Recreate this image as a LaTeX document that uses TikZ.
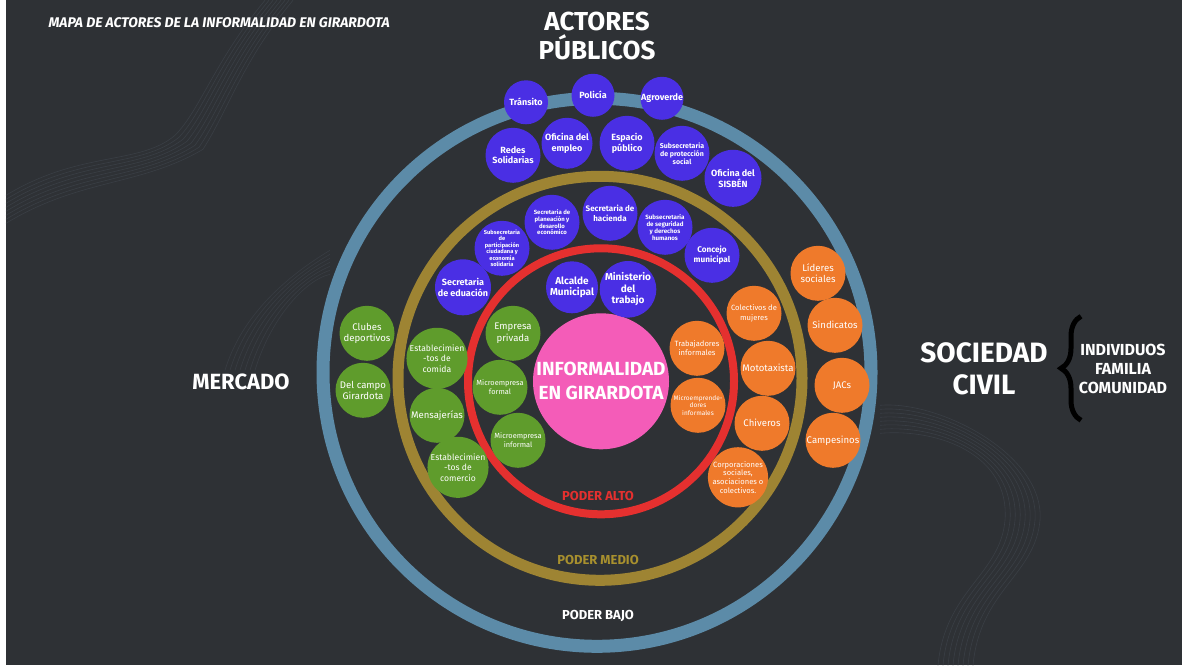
\documentclass[tikz,border=0pt]{standalone}
\usepackage{fontspec}
\setmainfont{Fira Sans}
\usetikzlibrary{decorations.pathreplacing}

\definecolor{bgdark}{HTML}{2E3135}
\definecolor{waveline}{HTML}{3D4249}
\definecolor{pubblue}{HTML}{4A2FE4}
\definecolor{mktgreen}{HTML}{5F9C2C}
\definecolor{civorange}{HTML}{EF7A2B}
\definecolor{corepink}{HTML}{F45CB8}
\definecolor{ringred}{HTML}{E5302F}
\definecolor{ringgold}{HTML}{9E8433}
\definecolor{ringblue}{HTML}{5C8BA8}

\begin{document}
\begin{tikzpicture}[x=1pt, y=-1pt,
  actor/.style={circle, minimum size=55pt, inner sep=0pt, align=center, text=white},
  pub/.style={actor, fill=pubblue, font=\bfseries\fontsize{9}{10.3}\selectfont},
  mkt/.style={actor, fill=mktgreen, font=\fontsize{9.6}{11.2}\selectfont},
  civ/.style={actor, fill=civorange, font=\fontsize{9.6}{11.2}\selectfont},
  heading/.style={text=white, align=center, font=\bfseries\fontsize{22}{27}\selectfont},
  powerlabel/.style={font=\bfseries\fontsize{13}{15}\selectfont}]
  % Background and left margin
  \fill[white] (0,0) rectangle (1182,665);
  \fill[bgdark] (6,0) rectangle (1182,665);
  % Faint wave lines
  \foreach \k in {0,...,7}
    \draw[waveline, line width=0.6pt, opacity=0.8]
      (6,195+4*\k) .. controls (80,150+4*\k) and (140,165+3*\k) .. (175+4*\k,135+2*\k)
      .. controls (200+4*\k,110) and (215+4*\k,60) .. (265+4*\k,0);
  \foreach \k in {0,...,7}
    \draw[waveline, line width=0.6pt, opacity=0.8]
      (880,433-4*\k) .. controls (940,428-4*\k) and (1010+5*\k,455) .. (1005+5*\k,520)
      .. controls (1000+5*\k,575) and (945+5*\k,590) .. (938+5*\k,665);
  \foreach \k in {0,...,6}
    \draw[waveline, line width=0.6pt, opacity=0.7]
      (225+5*\k,370) .. controls (240+5*\k,320) and (280+4*\k,280) .. (330,250+4*\k);

  % Power rings
  \draw[ringblue, line width=13pt] (597,372) circle[radius=274];
  \draw[ringgold, line width=11pt] (600,378) circle[radius=202];
  \draw[ringred, line width=8pt] (601,381) circle[radius=133];

  % Centre
  \node[circle, fill=corepink, minimum size=136pt, inner sep=0pt, align=center, text=white,
        font=\bfseries\fontsize{19}{24}\selectfont] (core) at (601,381) {INFORMALIDAD\\EN GIRARDOTA};

  % Public actors
  \node[pub, minimum size=44pt] (transito) at (526,102) {Tránsito};
  \node[pub, minimum size=43pt] (policia) at (593,95) {Policía};
  \node[pub, minimum size=43pt] (agroverde) at (662,98) {Agroverde};
  \node[pub] (redes) at (513,155) {Redes\\Solidarias};
  \node[pub, minimum size=51pt] (empleo) at (567,143) {Oficina del\\empleo};
  \node[pub] (espacio) at (627,143) {Espacio\\público};
  \node[pub, font=\bfseries\fontsize{7}{8}\selectfont] (proteccion) at (682,153) {Subsecretaria\\de protección\\social};
  \node[pub, minimum size=57pt] (sisben) at (733,178) {Oficina del\\SISBÉN};
  \node[pub, font=\bfseries\fontsize{6}{6.8}\selectfont] (planeacion) at (552,222) {Secretaria de\\planeación y\\desarollo\\económico};
  \node[pub, font=\bfseries\fontsize{8}{9.2}\selectfont] (hacienda) at (610,213) {Secretaria de\\hacienda};
  \node[pub, font=\bfseries\fontsize{6.2}{7}\selectfont] (seguridad) at (665,227) {Subsecretaria\\de seguridad\\y derechos\\humanos};
  \node[pub, font=\bfseries\fontsize{5.7}{6.5}\selectfont] (participacion) at (502,248) {Subsecretaria\\de\\participación\\ciudadana y\\economía\\solidaria};
  \node[pub, font=\bfseries\fontsize{8.2}{9.8}\selectfont] (concejo) at (712,255) {Concejo\\municipal};
  \node[pub, minimum size=56pt] (educacion) at (463,287) {Secretaria\\de eduación};
  \node[pub, minimum size=52pt, font=\bfseries\fontsize{10}{11.5}\selectfont] (alcalde) at (572,287) {Alcalde\\Municipal};
  \node[pub, font=\bfseries\fontsize{10}{11.5}\selectfont] (ministerio) at (628,289) {Ministerio\\del\\trabajo};

  % Market actors
  \node[mkt] (clubes) at (367,333) {Clubes\\deportivos};
  \node[mkt] (campo) at (363,390) {Del campo\\Girardota};
  \node[mkt, font=\fontsize{8.6}{10.4}\selectfont] (comida) at (437,358) {Establecimien\\-tos de\\comida};
  \node[mkt] (mensajerias) at (437,415) {Mensajerías};
  \node[mkt, font=\fontsize{8.6}{10.4}\selectfont] (comercio) at (458,467) {Establecimien\\-tos de\\comercio};
  \node[mkt] (privada) at (513,333) {Empresa\\privada};
  \node[mkt, font=\fontsize{7.4}{9.2}\selectfont] (mformal) at (500,387) {Microempresa\\formal};
  \node[mkt, font=\fontsize{7.4}{9.2}\selectfont] (minformal) at (518,440) {Microempresa\\informal};

  % Civil society actors
  \node[civ] (lideres) at (818,273) {Líderes\\sociales};
  \node[civ] (sindicatos) at (835,325) {Sindicatos};
  \node[civ] (jacs) at (842,385) {JACs};
  \node[civ] (campesinos) at (833,440) {Campesinos};
  \node[civ, font=\fontsize{7.6}{9.2}\selectfont] (mujeres) at (754,313) {Colectivos de\\mujeres};
  \node[civ] (mototaxista) at (768,368) {Mototaxista};
  \node[civ] (chiveros) at (762,423) {Chiveros};
  \node[civ, font=\fontsize{7.6}{8.8}\selectfont] (corporaciones) at (738,477) {Corporaciones\\sociales,\\asociaciones o\\colectivos.};
  \node[civ, font=\fontsize{7.6}{9.2}\selectfont] (trabajadores) at (697,348) {Trabajadores\\informales};
  \node[civ, font=\fontsize{6.5}{7.5}\selectfont] (microemp) at (698,405) {Microemprende-\\dores\\informales};

  % Titles and group labels
  \node[anchor=west, text=white, font=\bfseries\itshape\fontsize{14}{16}\selectfont] (maptitle) at (45,22)
    {MAPA DE ACTORES DE LA INFORMALIDAD EN GIRARDOTA};
  \node[heading, font=\bfseries\fontsize{26}{29}\selectfont] (publicos) at (597,36) {ACTORES\\PÚBLICOS};
  \node[heading] (mercado) at (241,382) {MERCADO};
  \node[heading, font=\bfseries\fontsize{28}{32}\selectfont] (sociedad) at (984,368) {SOCIEDAD\\CIVIL};
  \node[text=white, align=center, font=\bfseries\fontsize{16}{19}\selectfont] (niveles) at (1123,369)
    {INDIVIDUOS\\FAMILIA\\COMUNIDAD};
  \draw[black, line width=5pt, decorate, decoration={brace, amplitude=20pt}]
    (1081,420) -- (1081,316);

  % Power levels
  \node[powerlabel, text=ringred] (alto) at (598,496) {PODER ALTO};
  \node[powerlabel, text=ringgold!90!yellow] (medio) at (598,560) {PODER MEDIO};
  \node[powerlabel, text=white] (bajo) at (598,616) {PODER BAJO};
\end{tikzpicture}
\end{document}
